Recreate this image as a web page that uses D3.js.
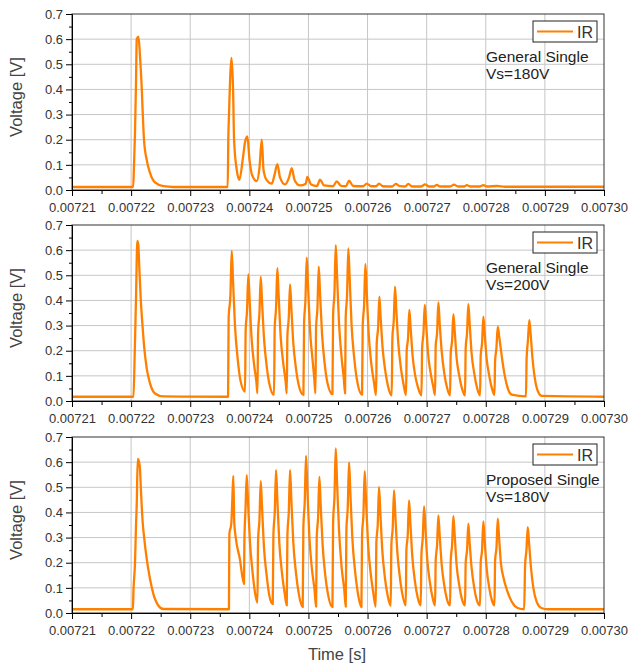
<!DOCTYPE html>
<html>
<head>
<meta charset="utf-8">
<script src="https://cdnjs.cloudflare.com/ajax/libs/d3/7.8.5/d3.min.js"></script>
<style>
  body { margin: 0; background: #fff; }
  text { font-family: "Liberation Sans", Arial, sans-serif; }
</style>
</head>
<body>
<div id="chart"></div>
<script>
// 時間はマイクロ秒 (7210 = 0.00721 s)、電圧は V
var generalSingle180 = [
  [7210,0.012],[7220.35,0.012],[7220.49,0.1],[7220.66,0.23],[7220.83,0.43],[7220.95,0.6],[7221.25,0.61],
  [7221.51,0.53],[7221.79,0.41],[7221.96,0.31],[7222.18,0.2],[7222.64,0.12],[7223.2,0.068],[7224.04,0.03],
  [7225.45,0.015],[7227.14,0.012],[7236.34,0.012],[7236.45,0.21],[7236.56,0.30],[7236.99,0.525],[7237.25,0.40],
  [7237.42,0.2],[7237.87,0.08],[7238.31,0.04],[7238.93,0.13],[7239.27,0.19],[7239.66,0.213],[7240.03,0.12],
  [7240.46,0.06],[7241.25,0.035],[7241.72,0.09],[7242.1,0.2],[7242.4,0.08],[7242.91,0.04],[7243.79,0.025],
  [7244.26,0.06],[7244.74,0.103],[7245.19,0.05],[7246.04,0.022],[7246.72,0.05],[7247.17,0.087],[7247.65,0.04],
  [7248.58,0.018],[7249.55,0.025],[7249.81,0.052],[7250.44,0.022],[7251.45,0.016],[7251.96,0.041],[7252.64,0.018],
  [7254.16,0.015],[7254.79,0.034],[7255.51,0.016],[7256.36,0.015],[7256.87,0.037],[7257.55,0.016],[7259.24,0.015],
  [7259.86,0.025],[7260.59,0.015],[7261.44,0.015],[7261.94,0.025],[7262.62,0.015],[7264.14,0.014],[7264.77,0.024],
  [7265.5,0.015],[7266.34,0.014],[7266.9,0.024],[7267.53,0.014],[7269.05,0.014],[7269.73,0.022],[7270.4,0.014],
  [7271.25,0.014],[7271.71,0.02],[7272.27,0.014],[7273.96,0.014],[7274.63,0.021],[7275.31,0.014],[7276.33,0.014],
  [7276.78,0.019],[7277.34,0.014],[7279.03,0.014],[7279.59,0.019],[7280.22,0.014],[7281.91,0.016],[7283.26,0.013],
  [7300,0.013]
];

var generalSingle200 = [
  [7210,0.017],[7220.4,0.017],[7220.6,0.18],[7220.83,0.41],[7221.05,0.637],[7221.22,0.62],[7221.39,0.53],
  [7221.62,0.41],[7221.96,0.29],[7222.23,0.21],[7222.64,0.13],[7223.2,0.07],[7224.04,0.03],[7225.45,0.018],
  [7236.4,0.017],
  [7236.5,0.33],[7236.8,0.42],[7237.02,0.597],[7237.24,0.48],[7237.57,0.30],[7238.02,0.17],[7238.47,0.085],[7239.27,0.037],
  [7239.38,0.28],[7239.61,0.36],[7239.83,0.504],[7240.05,0.40],[7240.38,0.25],[7240.83,0.14],[7241.2,0.075],[7241.37,0.031],
  [7241.48,0.27],[7241.71,0.35],[7241.93,0.494],[7242.15,0.395],[7242.48,0.25],[7242.93,0.14],[7243.38,0.07],[7244.18,0.024],
  [7244.29,0.29],[7244.52,0.37],[7244.74,0.528],[7244.96,0.42],[7245.29,0.26],[7245.74,0.15],[7246.15,0.075],[7246.33,0.03],
  [7246.44,0.26],[7246.67,0.33],[7246.89,0.464],[7247.11,0.37],[7247.44,0.23],[7247.89,0.13],[7248.34,0.065],[7249.15,0.024],
  [7249.26,0.31],[7249.49,0.40],[7249.71,0.57],[7249.93,0.46],[7250.26,0.285],[7250.71,0.16],[7251.0,0.085],[7251.18,0.03],
  [7251.29,0.29],[7251.52,0.37],[7251.74,0.534],[7251.96,0.43],[7252.29,0.27],[7252.74,0.15],[7253.19,0.075],[7254.06,0.027],
  [7254.17,0.34],[7254.4,0.43],[7254.62,0.62],[7254.84,0.50],[7255.17,0.31],[7255.62,0.17],[7256.0,0.085],[7256.19,0.03],
  [7256.3,0.33],[7256.53,0.42],[7256.75,0.607],[7256.97,0.49],[7257.3,0.30],[7257.75,0.17],[7258.2,0.085],[7259.07,0.025],
  [7259.18,0.30],[7259.41,0.38],[7259.63,0.544],[7259.85,0.44],[7260.18,0.27],[7260.63,0.15],[7261.08,0.075],[7261.44,0.024],
  [7261.55,0.23],[7261.78,0.29],[7262.0,0.415],[7262.22,0.33],[7262.55,0.21],[7263.0,0.12],[7263.45,0.06],[7264.09,0.022],
  [7264.2,0.25],[7264.43,0.32],[7264.65,0.455],[7264.87,0.36],[7265.2,0.23],[7265.65,0.13],[7266.1,0.065],[7266.51,0.024],
  [7266.62,0.2],[7266.85,0.25],[7267.07,0.362],[7267.29,0.29],[7267.62,0.18],[7268.07,0.10],[7268.52,0.055],[7269.12,0.022],
  [7269.23,0.21],[7269.46,0.27],[7269.68,0.382],[7269.9,0.31],[7270.23,0.19],[7270.68,0.11],[7271.13,0.055],[7271.42,0.024],
  [7271.53,0.22],[7271.76,0.27],[7271.98,0.392],[7272.2,0.31],[7272.53,0.2],[7272.98,0.11],[7273.43,0.055],[7273.96,0.022],
  [7274.07,0.19],[7274.3,0.24],[7274.52,0.345],[7274.74,0.28],[7275.07,0.17],[7275.52,0.1],[7275.97,0.05],[7276.49,0.022],
  [7276.6,0.21],[7276.83,0.27],[7277.05,0.385],[7277.27,0.31],[7277.6,0.19],[7278.05,0.11],[7278.5,0.055],[7279.03,0.022],
  [7279.14,0.18],[7279.37,0.23],[7279.59,0.335],[7279.81,0.27],[7280.14,0.17],[7280.59,0.1],[7281.04,0.05],[7281.47,0.024],
  [7281.58,0.16],[7281.8,0.21],[7282.03,0.296],[7282.25,0.26],[7282.58,0.2],[7283.0,0.13],[7283.6,0.06],[7284.4,0.025],[7286.8,0.018],
  [7286.91,0.17],[7287.13,0.24],[7287.36,0.322],[7287.58,0.27],[7287.9,0.17],[7288.3,0.09],[7288.8,0.04],[7289.5,0.02],
  [7300,0.017]
];

var proposedSingle180 = [
  [7210,0.015],[7220.3,0.015],[7220.4,0.09],[7220.66,0.2],[7220.83,0.35],[7220.95,0.43],[7221.12,0.613],
  [7221.35,0.6],[7221.51,0.57],[7221.68,0.48],[7221.96,0.36],[7222.23,0.295],[7222.64,0.215],[7223.2,0.135],
  [7223.76,0.076],[7224.6,0.03],[7225.45,0.016],[7236.55,0.015],
  [7236.62,0.315],[7236.95,0.355],[7237.12,0.45],[7237.29,0.545],[7237.45,0.36],[7237.7,0.30],[7238.4,0.215],[7239.1,0.115],
  [7239.16,0.28],[7239.35,0.41],[7239.56,0.548],[7239.78,0.44],[7240.11,0.28],[7240.56,0.16],[7241.0,0.075],[7241.37,0.041],
  [7241.48,0.29],[7241.71,0.37],[7241.93,0.524],[7242.15,0.42],[7242.48,0.26],[7242.93,0.15],[7243.38,0.07],[7243.96,0.035],
  [7244.07,0.31],[7244.3,0.40],[7244.52,0.568],[7244.74,0.45],[7245.07,0.28],[7245.52,0.16],[7245.97,0.08],[7246.33,0.03],
  [7246.44,0.31],[7246.67,0.40],[7246.89,0.568],[7247.11,0.45],[7247.44,0.28],[7247.89,0.16],[7248.34,0.08],[7249.03,0.023],
  [7249.14,0.34],[7249.37,0.44],[7249.59,0.625],[7249.81,0.50],[7250.14,0.31],[7250.59,0.175],[7251.04,0.09],[7251.29,0.025],
  [7251.4,0.30],[7251.63,0.38],[7251.85,0.541],[7252.07,0.43],[7252.4,0.27],[7252.85,0.15],[7253.3,0.075],[7254.06,0.023],
  [7254.17,0.36],[7254.4,0.46],[7254.62,0.655],[7254.84,0.52],[7255.17,0.33],[7255.62,0.18],[7256.07,0.09],[7256.31,0.025],
  [7256.42,0.33],[7256.65,0.42],[7256.87,0.599],[7257.09,0.48],[7257.42,0.30],[7257.87,0.17],[7258.32,0.085],[7258.96,0.023],
  [7259.07,0.31],[7259.3,0.39],[7259.52,0.564],[7259.74,0.45],[7260.07,0.28],[7260.52,0.16],[7260.97,0.08],[7261.38,0.025],
  [7261.49,0.28],[7261.72,0.35],[7261.94,0.501],[7262.16,0.40],[7262.49,0.25],[7262.94,0.14],[7263.39,0.07],[7263.92,0.028],
  [7264.03,0.27],[7264.26,0.34],[7264.48,0.488],[7264.7,0.39],[7265.03,0.245],[7265.48,0.14],[7265.93,0.07],[7266.46,0.03],
  [7266.57,0.25],[7266.8,0.31],[7267.02,0.448],[7267.24,0.36],[7267.57,0.225],[7268.02,0.125],[7268.47,0.063],[7269.0,0.03],
  [7269.11,0.23],[7269.34,0.30],[7269.56,0.424],[7269.78,0.34],[7270.11,0.21],[7270.56,0.12],[7271.01,0.06],[7271.42,0.03],
  [7271.53,0.21],[7271.76,0.27],[7271.98,0.388],[7272.2,0.31],[7272.53,0.195],[7272.98,0.11],[7273.43,0.055],[7273.96,0.03],
  [7274.07,0.21],[7274.3,0.27],[7274.52,0.385],[7274.74,0.31],[7275.07,0.19],[7275.52,0.11],[7275.97,0.055],[7276.49,0.03],
  [7276.6,0.2],[7276.83,0.25],[7277.05,0.355],[7277.27,0.28],[7277.6,0.18],[7278.05,0.10],[7278.5,0.05],[7279.03,0.03],
  [7279.14,0.2],[7279.37,0.25],[7279.59,0.364],[7279.81,0.29],[7280.14,0.18],[7280.59,0.10],[7281.04,0.05],[7281.47,0.03],
  [7281.58,0.21],[7281.81,0.26],[7282.03,0.375],[7282.25,0.30],[7282.55,0.2],[7283.0,0.14],[7283.6,0.09],[7284.4,0.045],
  [7285.4,0.02],[7286.5,0.015],
  [7286.65,0.19],[7286.88,0.25],[7287.1,0.341],[7287.32,0.28],[7287.65,0.18],[7288.05,0.10],[7288.6,0.045],[7289.4,0.02],
  [7290.5,0.015],[7300,0.015]
];

// パネルごとの注記
var panelNotes = [
  ["General Single", "Vs=180V"],
  ["General Single", "Vs=200V"],
  ["Proposed Single", "Vs=180V"]
];
var seriesName = "IR";
var xTickValues = [7210, 7220, 7230, 7240, 7250, 7260, 7270, 7280, 7290, 7300];
var xMinorValues = [7215, 7225, 7235, 7245, 7255, 7265, 7275, 7285, 7295];
var yTickValues = [0, 0.1, 0.2, 0.3, 0.4, 0.5, 0.6, 0.7];
var yMinorValues = [0.05, 0.15, 0.25, 0.35, 0.45, 0.55, 0.65];

var width = 628, height = 666;
var margin = {left: 72, right: 24};
var panelTops = [14, 225, 437];
var panelHeight = 176;
var lineColor = "#ff8000";

var svg = d3.select("#chart")
        .append("svg")
        .attr("width", width)
        .attr("height", height);

// x軸は全パネル共通
var x = d3.scaleLinear()
        .domain([7210, 7300])
        .range([margin.left, width - margin.right]);

function drawPanel(data, top, notes, idx) {
  var y = d3.scaleLinear()
          .domain([0, 0.7])
          .range([top + panelHeight, top]);

  var g = svg.append("g");

  // grid
  g.append("g")
      .selectAll("line")
      .data(xTickValues.slice(1, -1))
      .enter().append("line")
      .attr("x1", function(d) { return x(d); })
      .attr("x2", function(d) { return x(d); })
      .attr("y1", y(0))
      .attr("y2", y(0.7))
      .attr("stroke", "#c6c6c6")
      .attr("stroke-width", 1);

  g.append("g")
      .selectAll("line")
      .data(yTickValues.slice(1, -1))
      .enter().append("line")
      .attr("x1", x(7210))
      .attr("x2", x(7300))
      .attr("y1", function(d) { return y(d); })
      .attr("y2", function(d) { return y(d); })
      .attr("stroke", "#c6c6c6")
      .attr("stroke-width", 1);

  // clip
  g.append("clipPath")
      .attr("id", "clip" + idx)
      .append("rect")
      .attr("x", x(7210))
      .attr("y", y(0.7))
      .attr("width", x(7300) - x(7210))
      .attr("height", y(0) - y(0.7));

  var line = d3.line()
          .x(function(d) { return x(d[0]); })
          .y(function(d) { return y(d[1]); })
          .curve(d3.curveMonotoneX);

  g.append("path")
      .datum(data)
      .attr("clip-path", "url(#clip" + idx + ")")
      .attr("fill", "none")
      .attr("stroke", lineColor)
      .attr("stroke-width", 2.3)
      .attr("stroke-linejoin", "round")
      .attr("d", line);

  // frame (top / right)
  g.append("rect")
      .attr("x", x(7210))
      .attr("y", y(0.7))
      .attr("width", x(7300) - x(7210))
      .attr("height", y(0) - y(0.7))
      .attr("fill", "none")
      .attr("stroke", "#333")
      .attr("stroke-width", 1);

  // Y Axis
  g.append("g")
      .attr("transform", "translate(" + x(7210) + ",0)")
      .call(d3.axisLeft(y)
        .tickValues(yTickValues)
        .tickSize(6)
        .tickSizeOuter(0)
        .tickPadding(3)
        .tickFormat(d3.format(".1f")));
  g.append("g")
      .attr("transform", "translate(" + x(7210) + ",0)")
      .call(d3.axisLeft(y)
        .tickValues(yMinorValues)
        .tickSize(3)
        .tickSizeOuter(0)
        .tickFormat(""));

  // X Axis
  g.append("g")
      .attr("transform", "translate(0," + y(0) + ")")
      .call(d3.axisBottom(x)
        .tickValues(xTickValues)
        .tickSize(6)
        .tickSizeOuter(0)
        .tickPadding(7)
        .tickFormat(function(d) { return (d / 1e6).toFixed(5); }));
  g.append("g")
      .attr("transform", "translate(0," + y(0) + ")")
      .call(d3.axisBottom(x)
        .tickValues(xMinorValues)
        .tickSize(4)
        .tickSizeOuter(0)
        .tickFormat(""));

  g.selectAll(".tick text")
      .attr("font-size", 13)
      .attr("font-family", "'Liberation Sans', Arial, sans-serif")
      .attr("fill", "#333");

  // Y軸ラベル
  g.append("text")
      .attr("transform", "translate(22," + (top + panelHeight / 2 - 5) + ") rotate(-90)")
      .attr("text-anchor", "middle")
      .attr("font-size", 16.5)
      .attr("fill", "#444")
      .text("Voltage [V]");

  // legend
  var lx = 533, ly = top + 7;
  g.append("rect")
      .attr("x", lx)
      .attr("y", ly)
      .attr("width", 64)
      .attr("height", 21)
      .attr("fill", "#fff")
      .attr("stroke", "#222")
      .attr("stroke-width", 1);
  g.append("line")
      .attr("x1", lx + 4)
      .attr("x2", lx + 40)
      .attr("y1", ly + 10.5)
      .attr("y2", ly + 10.5)
      .attr("stroke", lineColor)
      .attr("stroke-width", 2);
  g.append("text")
      .attr("x", lx + 44)
      .attr("y", ly + 17)
      .attr("font-size", 16)
      .attr("fill", "#333")
      .text(seriesName);

  // 注記
  g.append("text")
      .attr("x", 486)
      .attr("y", top + 48)
      .attr("font-size", 15.5)
      .attr("fill", "#222")
      .text(notes[0]);
  g.append("text")
      .attr("x", 486)
      .attr("y", top + 64.5)
      .attr("font-size", 15.5)
      .attr("fill", "#222")
      .text(notes[1]);
}

drawPanel(generalSingle180, panelTops[0], panelNotes[0], 0);
drawPanel(generalSingle200, panelTops[1], panelNotes[1], 1);
drawPanel(proposedSingle180, panelTops[2], panelNotes[2], 2);

// X軸ラベル
svg.append("text")
    .attr("x", 337)
    .attr("y", 660)
    .attr("text-anchor", "middle")
    .attr("font-size", 16.5)
    .attr("fill", "#444")
    .text("Time [s]");
</script>
</body>
</html>
